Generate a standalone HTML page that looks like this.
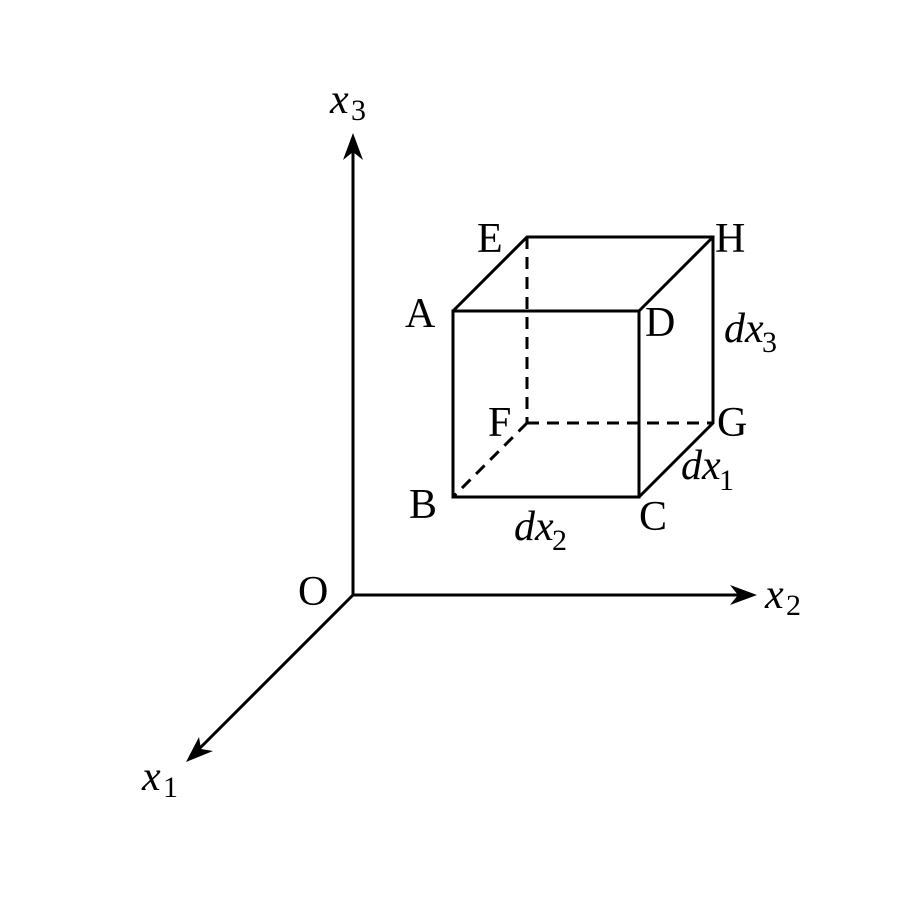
<!DOCTYPE html>
<html><head><style>body{margin:0;background:#fff}</style></head><body>
<svg width="900" height="900" viewBox="0 0 900 900" xmlns="http://www.w3.org/2000/svg" font-family="Liberation Serif, serif" fill="#000">
<g stroke="#000" stroke-width="3" fill="none">
<line x1="353" y1="595" x2="353" y2="150"/>
<line x1="353" y1="595" x2="740" y2="595"/>
<line x1="353" y1="595" x2="198" y2="750"/>
<rect x="453" y="311" width="186" height="186"/>
<polyline points="453,311 527,237 713,237 713,423 639,497"/>
<line x1="639" y1="311" x2="713" y2="237"/>
<g stroke-dasharray="12,8">
<line x1="527" y1="237" x2="527" y2="423"/>
<line x1="527" y1="423" x2="713" y2="423"/>
<line x1="527" y1="423" x2="453" y2="497"/>
</g>
</g>
<polygon points="353,133 343,160 353,152 363,160"/>
<polygon points="757,595 730,585 738,595 730,605"/>
<polygon points="186,762 199,737 201,749 213,751"/>
<g font-size="42">
<text x="330" y="113" font-style="italic">x</text><text x="351" y="120" font-size="30">3</text>
<text x="765" y="608" font-style="italic">x</text><text x="786" y="615" font-size="30">2</text>
<text x="142" y="790" font-style="italic">x</text><text x="163" y="797" font-size="30">1</text>
<text x="298" y="605">O</text>
<text x="477" y="252">E</text>
<text x="715" y="252">H</text>
<text x="405" y="327">A</text>
<text x="645" y="336">D</text>
<text x="488" y="436">F</text>
<text x="717" y="436">G</text>
<text x="409" y="518">B</text>
<text x="639" y="530">C</text>
<text x="724" y="342" font-style="italic">dx</text><text x="762" y="352" font-size="30">3</text>
<text x="681" y="479" font-style="italic">dx</text><text x="719" y="490" font-size="30">1</text>
<text x="514" y="540" font-style="italic">dx</text><text x="552" y="550" font-size="30">2</text>
</g>
</svg>
</body></html>
